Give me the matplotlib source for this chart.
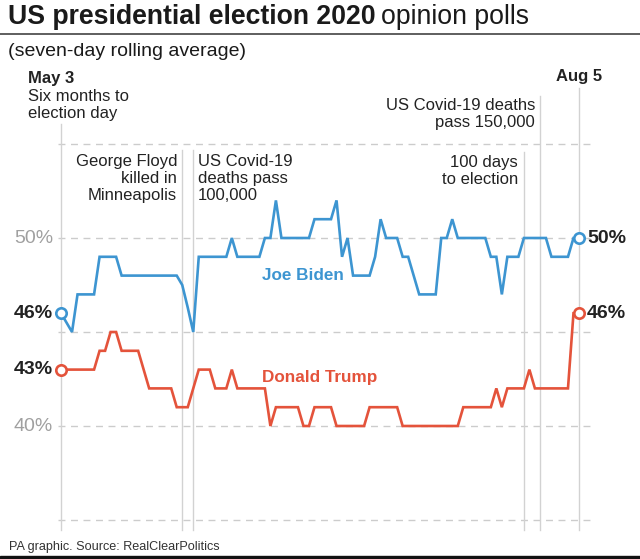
import numpy as np
import pandas as pd
import matplotlib
matplotlib.use('Agg')
from matplotlib import pyplot as plt

plt.rcParams['font.family'] = ['Liberation Sans', 'DejaVu Sans']

W, H = 640, 559

# daily seven-day averages, May 3 .. Aug 5
start = pd.Timestamp('2020-05-03')
biden = [46, 45.5, 45, 47, 47, 47, 47, 49, 49, 49,
         49, 48, 48, 48, 48, 48, 48, 48, 48, 48,
         48, 48, 47.5, 46.3, 45, 49, 49, 49, 49, 49,
         49, 50, 49, 49, 49, 49, 49, 50, 50, 52,
         50, 50, 50, 50, 50, 50, 51, 51, 51, 51,
         52, 49, 50, 48, 48, 48, 48, 49, 51, 50,
         50, 50, 49, 49, 48, 47, 47, 47, 47, 50,
         50, 51, 50, 50, 50, 50, 50, 50, 49, 49,
         47, 49, 49, 49, 50, 50, 50, 50, 50, 49,
         49, 49, 49, 50, 50]
trump = [43, 43, 43, 43, 43, 43, 43, 44, 44, 45,
         45, 44, 44, 44, 44, 43, 42, 42, 42, 42,
         42, 41, 41, 41, 42, 43, 43, 43, 42, 42,
         42, 43, 42, 42, 42, 42, 42, 42, 40, 41,
         41, 41, 41, 41, 40, 40, 41, 41, 41, 41,
         40, 40, 40, 40, 40, 40, 41, 41, 41, 41,
         41, 41, 40, 40, 40, 40, 40, 40, 40, 40,
         40, 40, 40, 41, 41, 41, 41, 41, 41, 42,
         41, 42, 42, 42, 42, 43, 42, 42, 42, 42,
         42, 42, 42, 46, 46]
days = np.arange(len(biden))

events = ['2020-05-25', '2020-05-27', '2020-07-26', '2020-07-29']
event_text = [['George Floyd', 'killed in', 'Minneapolis'],
              ['US Covid-19', 'deaths pass', '100,000'],
              ['100 days', 'to election'],
              ['US Covid-19 deaths', 'pass 150,000']]
grid_vals = [35, 40, 45, 50, 55]
tick_labels = {50: '50%', 40: '40%'}

BLUE = '#3d95d1'
RED = '#e4533b'
GRID = '#cccccc'

# pixel geometry of the plot area
x0_px, x1_px = 61, 579
y50_px, y40_px = 238, 426
ppd = (x1_px - x0_px) / (len(days) - 1)
ppp = (y40_px - y50_px) / 10.0


def fx(x):
    return x / W


def fy(y):
    return 1 - y / H


def val_y(py):
    return 50 + (y50_px - py) / ppp


def day_x(px):
    return (px - x0_px) / ppd


fig = plt.figure(figsize=(W / 100, H / 100), dpi=100)
ax_l, ax_r, ax_t, ax_b = 58, 592, 80, 530
ax = fig.add_axes([fx(ax_l), fy(ax_b), (ax_r - ax_l) / W, (ax_b - ax_t) / H])
ax.set_xlim(day_x(ax_l), day_x(ax_r))
ax.set_ylim(val_y(ax_b), val_y(ax_t))
ax.axis('off')

# dashed grid
for g in grid_vals:
    ax.plot([day_x(58), day_x(590)], [g, g], color=GRID, lw=1, ls=(0, (5, 4)), zorder=1)

# vertical markers
ev_days = [(pd.Timestamp(e) - start).days for e in events]
tops = [150, 150, 152, 96]
for d, t in zip(ev_days, tops):
    ax.plot([d, d], [val_y(t), val_y(530)], color='#d2d2d2', lw=1, zorder=1, clip_on=False)
ax.plot([0, 0], [val_y(124), val_y(530)], color='#d2d2d2', lw=1, zorder=1, clip_on=False)
ax.plot([days[-1], days[-1]], [val_y(88), val_y(530)], color='#d2d2d2', lw=1, zorder=1, clip_on=False)

# lines
ax.plot(days, biden, color=BLUE, lw=1.9, zorder=3, solid_joinstyle='miter')
ax.plot(days, trump, color=RED, lw=1.9, zorder=3, solid_joinstyle='miter')
for s, c in ((biden, BLUE), (trump, RED)):
    ax.plot([days[0], days[-1]], [s[0], s[-1]], ls='none', marker='o', ms=7.5,
            mfc='white', mec=c, mew=1.9, zorder=4, clip_on=False)

# value labels
lab_col = '#222222'
for v in (biden[0], trump[0]):
    ax.text(day_x(53), v, f'{v:.0f}%', ha='right', va='center', fontsize=14,
            fontweight='bold', color=lab_col)
for v in (biden[-1], trump[-1]):
    ax.text(day_x(587), v, f'{v:.0f}%', ha='left', va='center', fontsize=14,
            fontweight='bold', color=lab_col)
for v, s in tick_labels.items():
    ax.text(day_x(53), v, s, ha='right', va='center', fontsize=14, color='#a0a0a0')

ax.text(day_x(262), val_y(275), 'Joe Biden', ha='left', va='center', fontsize=12.3,
        fontweight='bold', color=BLUE)
ax.text(day_x(262), val_y(377), 'Donald Trump', ha='left', va='center', fontsize=12.3,
        fontweight='bold', color=RED)

# event annotations
txt_col = '#222222'
fs = 12
lh = 17
for lines, (xp, ha, base) in zip(event_text, [(177, 'right', 166), (198, 'left', 166),
                                             (518, 'right', 167), (535, 'right', 110)]):
    for j, ln in enumerate(lines):
        fig.text(fx(xp), fy(base + j * lh), ln, ha=ha, va='baseline', fontsize=fs, color=txt_col)

fig.text(fx(28), fy(83), 'May 3', ha='left', va='baseline', fontsize=fs, fontweight='bold', color=txt_col)
fig.text(fx(28), fy(101), 'Six months to', ha='left', va='baseline', fontsize=fs, color=txt_col)
fig.text(fx(28), fy(118), 'election day', ha='left', va='baseline', fontsize=fs, color=txt_col)
fig.text(fx(579), fy(81), 'Aug 5', ha='center', va='baseline', fontsize=fs, fontweight='bold', color=txt_col)

# title
t1 = fig.text(fx(8), fy(24), 'US presidential election 2020', ha='left', va='baseline',
              fontsize=19.2, fontweight='bold', color='#1a1a1a')
fig.canvas.draw()
bb = t1.get_window_extent(renderer=fig.canvas.get_renderer())
fig.text(bb.x1 / W + fx(5), fy(24), 'opinion polls', ha='left', va='baseline',
         fontsize=19.2, color='#1a1a1a')
fig.add_artist(plt.Line2D([0, 1], [fy(33.5), fy(33.5)], color='#333333', lw=1.1))
fig.text(fx(8), fy(56), '(seven-day rolling average)', ha='left', va='baseline',
         fontsize=14, color='#1a1a1a')

fig.text(fx(9), fy(550), 'PA graphic. Source: RealClearPolitics', ha='left', va='baseline',
         fontsize=9.1, color='#333333')
fig.add_artist(plt.Rectangle((0, 0), 1, fy(556), color='#111111', transform=fig.transFigure))

fig.savefig('out.png', dpi=100)
